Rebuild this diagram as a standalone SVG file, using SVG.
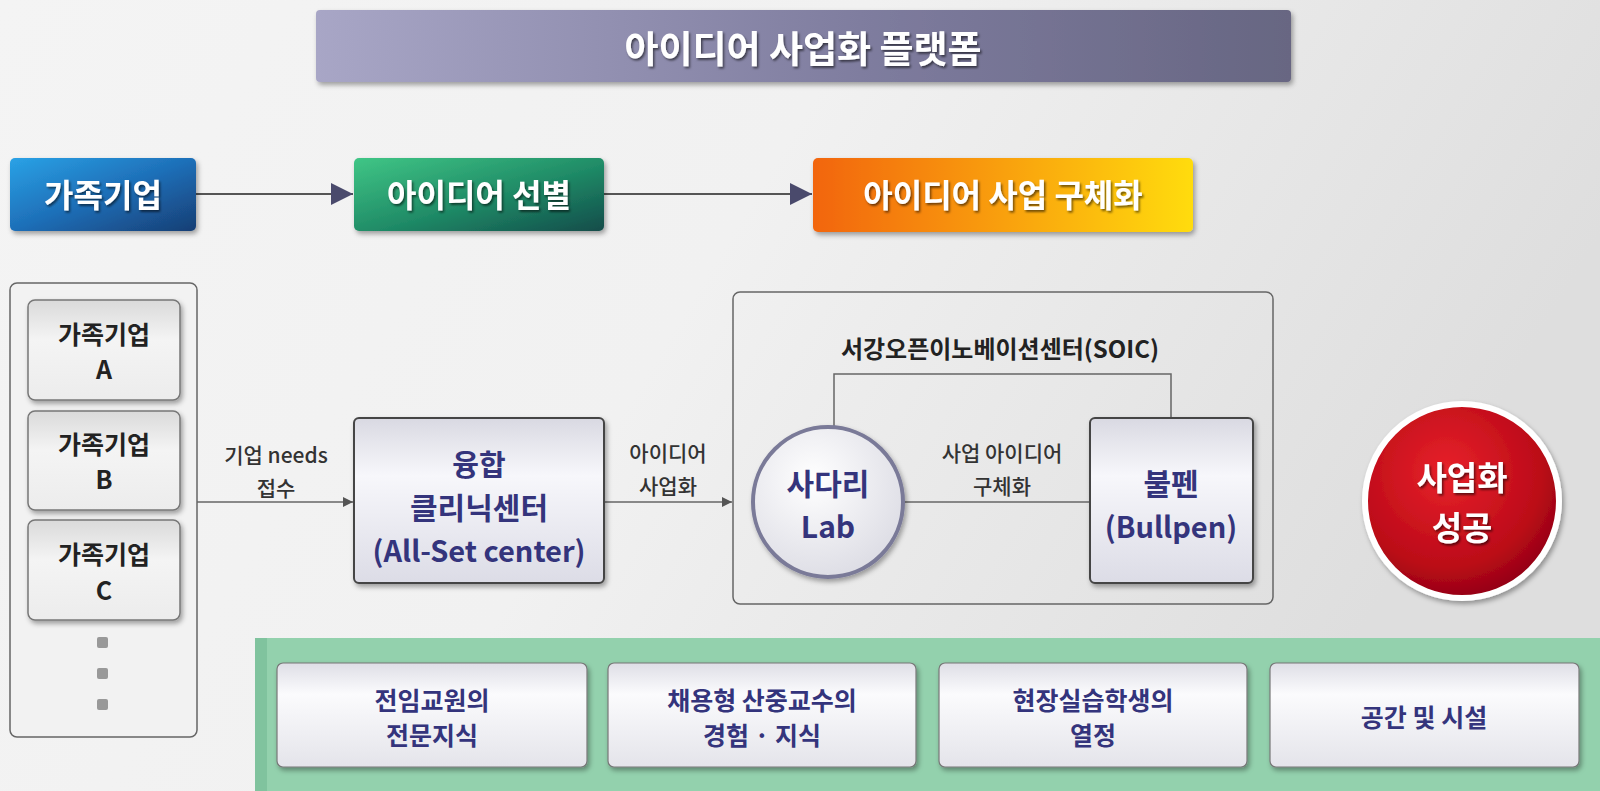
<svg xmlns="http://www.w3.org/2000/svg" width="1600" height="791" viewBox="0 0 1600 791">
<defs>
<style>
text{font-family:"Noto Sans CJK KR","Noto Sans",sans-serif;text-anchor:middle;dominant-baseline:central}
.hd{fill:#fff;font-weight:700;font-size:32px}
.sub{fill:#222;font-weight:700;font-size:25px}
.nd{fill:#34347c;font-weight:700;font-size:29px}
.lb{fill:#333;font-weight:500;font-size:21px}
.bt{fill:#34347c;font-weight:700;font-size:25px}
.ln{stroke:#666;stroke-width:1.5;fill:none}
</style>
<linearGradient id="bg" x1="0" y1="0" x2="1" y2="0.3">
<stop offset="0" stop-color="#f4f4f4"/><stop offset="0.5" stop-color="#f1f1f1"/><stop offset="1" stop-color="#dedede"/>
</linearGradient>
<linearGradient id="gTitle" x1="0" y1="0" x2="1" y2="0">
<stop offset="0" stop-color="#a8a6c6"/><stop offset="0.6" stop-color="#7c7a9c"/><stop offset="1" stop-color="#676682"/>
</linearGradient>
<linearGradient id="gBlue" x1="0" y1="0" x2="1" y2="1">
<stop offset="0" stop-color="#2aa2e6"/><stop offset="0.5" stop-color="#1e6fb8"/><stop offset="1" stop-color="#173e74"/>
</linearGradient>
<linearGradient id="gGreen" x1="0" y1="0" x2="1" y2="1">
<stop offset="0" stop-color="#40c686"/><stop offset="0.55" stop-color="#1f8a66"/><stop offset="1" stop-color="#124c4a"/>
</linearGradient>
<linearGradient id="gOrange" x1="0" y1="0" x2="1" y2="0">
<stop offset="0" stop-color="#f2650e"/><stop offset="0.5" stop-color="#f9a008"/><stop offset="1" stop-color="#ffdc0a"/>
</linearGradient>
<linearGradient id="gBox" x1="0" y1="0" x2="0" y2="1">
<stop offset="0" stop-color="#d9d9e2"/><stop offset="0.35" stop-color="#f7f7fb"/><stop offset="1" stop-color="#dcdce6"/>
</linearGradient>
<linearGradient id="gSub" x1="0" y1="0" x2="0" y2="1">
<stop offset="0" stop-color="#dadada"/><stop offset="0.4" stop-color="#f4f4f4"/><stop offset="1" stop-color="#ececec"/>
</linearGradient>
<linearGradient id="gBot" x1="0" y1="0" x2="0" y2="1">
<stop offset="0" stop-color="#dedee6"/><stop offset="0.3" stop-color="#fbfbfd"/><stop offset="1" stop-color="#e4e4ea"/>
</linearGradient>
<radialGradient id="gCirc" cx="0.4" cy="0.35" r="0.7">
<stop offset="0" stop-color="#ffffff"/><stop offset="1" stop-color="#dcdce4"/>
</radialGradient>
<radialGradient id="gRed" cx="0.42" cy="0.35" r="0.7">
<stop offset="0" stop-color="#e8222a"/><stop offset="0.7" stop-color="#bb0a18"/><stop offset="1" stop-color="#8a0010"/>
</radialGradient>
<filter id="sh" x="-10%" y="-10%" width="125%" height="130%">
<feDropShadow dx="2" dy="3" stdDeviation="2.5" flood-color="#000" flood-opacity="0.35"/>
</filter>
<filter id="tsh" x="-10%" y="-20%" width="125%" height="150%">
<feDropShadow dx="1.5" dy="2" stdDeviation="1" flood-color="#000" flood-opacity="0.55"/>
</filter>
<marker id="big" viewBox="0 0 10 10" refX="10" refY="5" markerWidth="22" markerHeight="22" markerUnits="userSpaceOnUse" orient="auto">
<path d="M0,0 L10,5 L0,10 z" fill="#4a4a6c"/>
</marker>
<marker id="sm" viewBox="0 0 10 10" refX="10" refY="5" markerWidth="10" markerHeight="10" markerUnits="userSpaceOnUse" orient="auto">
<path d="M0,0 L10,5 L0,10 z" fill="#555"/>
</marker>
</defs>

<rect x="0" y="0" width="1600" height="791" fill="url(#bg)"/>

<g id="title">
<rect x="316" y="10" width="975" height="72" rx="4" fill="url(#gTitle)" filter="url(#sh)"/>
<text x="803" y="47" class="hd" style="font-size:37px" filter="url(#tsh)">아이디어 사업화 플랫폼</text>
</g>

<g id="connectors">
<line x1="196" y1="194" x2="353" y2="194" stroke="#555" stroke-width="2" marker-end="url(#big)"/>
<line x1="604" y1="194" x2="812" y2="194" stroke="#555" stroke-width="2" marker-end="url(#big)"/>
<line x1="197" y1="502" x2="353" y2="502" class="ln" marker-end="url(#sm)"/>
<line x1="604" y1="502" x2="732" y2="502" class="ln" marker-end="url(#sm)"/>
<line x1="904" y1="502" x2="1090" y2="502" class="ln" stroke="#888"/>
<path d="M834,428 V374 H1171 V418" class="ln" stroke="#999"/>
</g>

<g id="labels">
<text x="276" y="454" class="lb">기업 needs</text>
<text x="276" y="487" class="lb">접수</text>
<text x="668" y="452" class="lb">아이디어</text>
<text x="668" y="485" class="lb">사업화</text>
<text x="1002" y="452" class="lb">사업 아이디어</text>
<text x="1002" y="485" class="lb">구체화</text>
</g>

<g id="h-family">
<rect x="10" y="158" width="186" height="73" rx="5" fill="url(#gBlue)" filter="url(#sh)"/>
<text x="103" y="193" class="hd" filter="url(#tsh)">가족기업</text>
</g>
<g id="h-select">
<rect x="354" y="158" width="250" height="73" rx="5" fill="url(#gGreen)" filter="url(#sh)"/>
<text x="479" y="193" class="hd" filter="url(#tsh)">아이디어 선별</text>
</g>
<g id="h-concrete">
<rect x="813" y="158" width="380" height="74" rx="5" fill="url(#gOrange)" filter="url(#sh)"/>
<text x="1003" y="193" class="hd" filter="url(#tsh)">아이디어 사업 구체화</text>
</g>

<g id="family-list">
<rect x="10" y="283" width="187" height="454" rx="7" fill="#f2f2f2" stroke="#666" stroke-width="1.5"/>
<g id="fam-a">
<rect x="28" y="300" width="152" height="100" rx="7" fill="url(#gSub)" stroke="#777" stroke-width="1.5" filter="url(#sh)"/>
<text x="104" y="333" class="sub">가족기업</text>
<text x="104" y="368" class="sub">A</text>
</g>
<g id="fam-b">
<rect x="28" y="411" width="152" height="99" rx="7" fill="url(#gSub)" stroke="#777" stroke-width="1.5" filter="url(#sh)"/>
<text x="104" y="443" class="sub">가족기업</text>
<text x="104" y="478" class="sub">B</text>
</g>
<g id="fam-c">
<rect x="28" y="520" width="152" height="100" rx="7" fill="url(#gSub)" stroke="#777" stroke-width="1.5" filter="url(#sh)"/>
<text x="104" y="553" class="sub">가족기업</text>
<text x="104" y="589" class="sub">C</text>
</g>
<rect x="97" y="637" width="11" height="11" rx="2" fill="#999"/>
<rect x="97" y="668" width="11" height="11" rx="2" fill="#999"/>
<rect x="97" y="699" width="11" height="11" rx="2" fill="#999"/>
</g>

<g id="allset">
<rect x="354" y="418" width="250" height="165" rx="5" fill="url(#gBox)" stroke="#444" stroke-width="2" filter="url(#sh)"/>
<text x="479" y="463" class="nd">융합</text>
<text x="479" y="506" class="nd" style="font-size:30px">클리닉센터</text>
<text x="479" y="549" class="nd">(All-Set center)</text>
</g>

<g id="soic">
<rect x="733" y="292" width="540" height="312" rx="7" fill="none" stroke="#666" stroke-width="1.5"/>
<text x="1000" y="347" style="fill:#222;font-weight:700;font-size:24px">서강오픈이노베이션센터(SOIC)</text>
</g>

<g id="sadari">
<circle cx="828" cy="502" r="75" fill="url(#gCirc)" stroke="#7a7a98" stroke-width="4" filter="url(#sh)"/>
<text x="828" y="482" class="nd" style="font-size:30px">사다리</text>
<text x="828" y="525" class="nd" style="font-size:30px">Lab</text>
</g>

<g id="bullpen">
<rect x="1090" y="418" width="163" height="165" rx="5" fill="url(#gBox)" stroke="#444" stroke-width="2" filter="url(#sh)"/>
<text x="1171" y="482" class="nd" style="font-size:30px">불펜</text>
<text x="1171" y="525" class="nd">(Bullpen)</text>
</g>

<g id="success">
<circle cx="1462" cy="501" r="97" fill="url(#gRed)" stroke="#fff" stroke-width="6" filter="url(#sh)"/>
<text x="1462" y="476" class="hd" style="font-size:33px" filter="url(#tsh)">사업화</text>
<text x="1462" y="526" class="hd" style="font-size:33px" filter="url(#tsh)">성공</text>
</g>

<g id="resources">
<rect x="255" y="638" width="1345" height="153" fill="#93d1ad"/>
<rect x="255" y="638" width="12" height="153" fill="#80c39e"/>
<g id="res-1">
<rect x="277" y="663" width="310" height="104" rx="6" fill="url(#gBot)" stroke="#777" stroke-width="1.2" filter="url(#sh)"/>
<text x="432" y="699" class="bt">전임교원의</text>
<text x="432" y="734" class="bt">전문지식</text>
</g>
<g id="res-2">
<rect x="608" y="663" width="308" height="104" rx="6" fill="url(#gBot)" stroke="#777" stroke-width="1.2" filter="url(#sh)"/>
<text x="762" y="699" class="bt">채용형 산중교수의</text>
<text x="762" y="734" class="bt">경험 · 지식</text>
</g>
<g id="res-3">
<rect x="939" y="663" width="308" height="104" rx="6" fill="url(#gBot)" stroke="#777" stroke-width="1.2" filter="url(#sh)"/>
<text x="1093" y="699" class="bt">현장실습학생의</text>
<text x="1093" y="734" class="bt">열정</text>
</g>
<g id="res-4">
<rect x="1270" y="663" width="309" height="104" rx="6" fill="url(#gBot)" stroke="#777" stroke-width="1.2" filter="url(#sh)"/>
<text x="1424" y="716" class="bt">공간 및 시설</text>
</g>
</g>
</svg>
